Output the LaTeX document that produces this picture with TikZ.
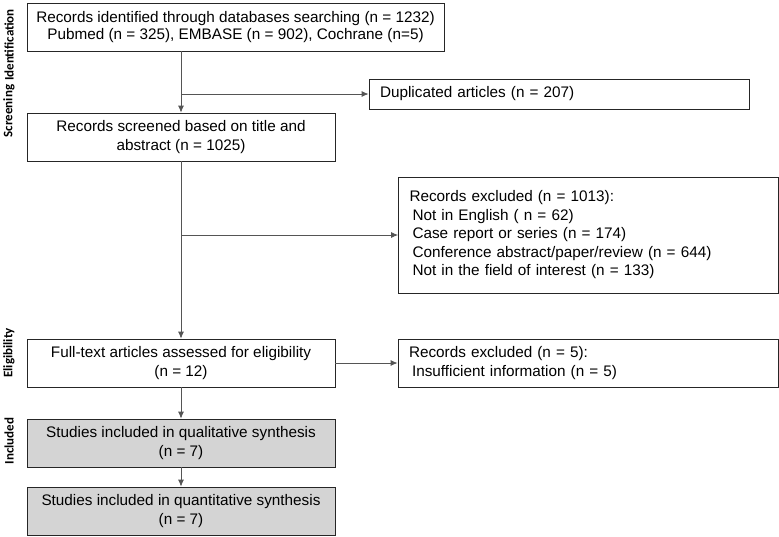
\documentclass[tikz,border=0pt]{standalone}
\usepackage{fontspec}
\setmainfont{Liberation Sans}
\newfontfamily\stagefont{Carlito}
\usetikzlibrary{arrows.meta, positioning}
\definecolor{linegray}{HTML}{555555}
\definecolor{boxgray}{HTML}{D4D4D4}
\tikzset{
  box/.style={
    rectangle,
    draw=black!85,
    line width=0.8pt,
    align=center,
    minimum height=48pt,
    minimum width=308pt,
    inner sep=0pt,
    font=\fontsize{15.3}{19}\selectfont,
    execute at begin node={\rule{0pt}{17pt}}
  },
  sidebox/.style={
    rectangle,
    draw=black!85,
    line width=0.8pt,
    align=left,
    inner xsep=11pt,
    inner ysep=0pt,
    text width=358pt,
    font=\fontsize{15.3}{19}\selectfont
  },
  incbox/.style={
    box,
    fill=boxgray
  },
  stage/.style={rotate=90, font=\stagefont\bfseries\fontsize{13}{15}\selectfont},
  arrow/.style={-{Latex[length=7pt,width=6pt]}, line width=0.8pt, draw=linegray}
}

\begin{document}
\begin{tikzpicture}[x=1pt,y=-1pt]
\useasboundingbox (0,0) rectangle (779,536);
% stage labels
\node[stage] (lident) at (9,45) {Identification};
\node[stage] (lscreen) at (9,111) {Screening};
\node[stage] (lelig) at (9,353) {Eligibility};
\node[stage] (lincl) at (9,441) {Included};
% main column
\node[box, minimum width=417pt, font=\fontsize{15.3}{17}\selectfont, execute at begin node={\rule{0pt}{21pt}}] (records) at (235.5,27) {Records identified through databases searching (n = 1232)\\Pubmed (n = 325), EMBASE (n = 902), Cochrane (n=5)};
\node[box] (screened) at (181,137) {Records screened based on title and\\abstract (n = 1025)};
\node[box] (fulltext) at (181,363) {Full-text articles assessed for eligibility\\(n = 12)};
\node[incbox] (qualit) at (181,443) {Studies included in qualitative synthesis\\(n = 7)};
\node[incbox] (quantit) at (181,511) {Studies included in quantitative synthesis\\(n = 7)};
% side boxes
\node[sidebox, minimum height=30pt] (duplicates) at (559,94) {Duplicated articles (n = 207)};
\node[sidebox, minimum height=116pt, font=\fontsize{15.3}{18.5}\selectfont] (excluded) at (588.5,235) {Records excluded (n = 1013):\\
\hspace{3pt}Not in English ( n = 62)\\
\hspace{3pt}Case report or series (n = 174)\\
\hspace{3pt}Conference abstract/paper/review (n = 644)\\
\hspace{3pt}Not in the field of interest (n = 133)\par\vspace*{10pt}};
\node[sidebox, minimum height=48pt] (excluded2) at (588,363) {Records excluded (n = 5):\\
\hspace{3pt}Insufficient information (n = 5)};

\coordinate (split1) at (screened.north |- duplicates.west);
\coordinate (split2) at (screened.north |- excluded.west);

\draw[arrow] (records.south -| screened.north) -- (screened.north);
\draw[arrow] (split1) -- (duplicates.west);
\draw[arrow] (screened.south) -- (fulltext.north);
\draw[arrow] (split2) -- (excluded.west);
\draw[arrow] (fulltext.east) -- (excluded2.west);
\draw[arrow] (fulltext.south) -- (qualit.north);
\draw[arrow] (qualit.south) -- (quantit.north);
\end{tikzpicture}
\end{document}
